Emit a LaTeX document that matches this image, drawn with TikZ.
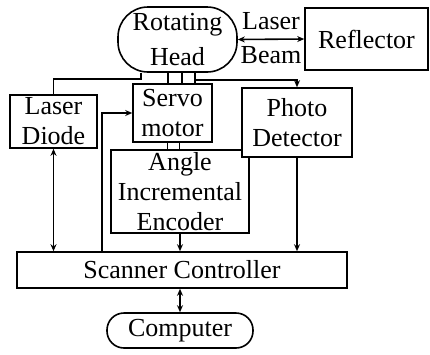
\documentclass[tikz,border=0pt]{standalone}
\usepackage{fontspec}
\setmainfont{Liberation Serif}
\usetikzlibrary{arrows.meta}
\begin{document}
\begin{tikzpicture}[x=1pt,y=-1pt,
  every node/.style={font=\fontsize{26}{30}\selectfont},
  box/.style={draw,line width=1.6pt,fill=white,inner sep=0pt,align=center},
  stadium/.style={box,rounded corners=30pt},
  conn/.style={line width=1.6pt},
  tip/.style={conn,-{Stealth[length=7pt,width=6pt]}},
  dtip/.style={conn,{Stealth[length=7pt,width=6pt]}-{Stealth[length=7pt,width=6pt]}},
  lbl/.style={inner sep=0pt}]
\useasboundingbox (0,0) rectangle (430,354);
\node[stadium,minimum width=119pt,minimum height=65pt,
  font=\fontsize{26}{35}\selectfont] (head) at (177.5,39.5) {Rotating\\Head};
\node[box,minimum width=123pt,minimum height=62pt] (refl) at (366.5,39) {Reflector};
\node[box,minimum width=87pt,minimum height=53pt] (diode) at (53.5,121.5) {Laser\\Diode};
\node[box,minimum width=79pt,minimum height=58pt] (servo) at (172.5,113) {Servo\\motor};
\node[box,minimum width=138pt,minimum height=83pt] (enc) at (180,191.5) {Angle\\Incremental\\Encoder};
\node[box,minimum width=110pt,minimum height=69pt] (photo) at (297,122.5) {Photo\\Detector};
\node[box,minimum width=330pt,minimum height=36pt] (ctrl) at (182,270) {Scanner Controller};
\node[stadium,rounded corners=17pt,minimum width=146pt,minimum height=35pt] (comp) at (180,330.5) {Computer};
\node[lbl] (laserlbl) at (271,21) {Laser};
\node[lbl] (beamlbl) at (271,55) {Beam};
% laser beam
\draw[dtip] (head.east) -- (refl.west);
% head to laser diode
\draw[conn] ([xshift=24pt]head.south west) -- ++(0,6) -| (diode.north);
% head to servo (three shafts)
\draw[conn] ([xshift=-9.5pt]head.south) -- ([xshift=-9.5pt]head.south |- servo.north);
\draw[conn] ([xshift=4.5pt]head.south) -- ([xshift=4.5pt]head.south |- servo.north);
\draw[conn] ([xshift=17.5pt]head.south) -- ([xshift=17.5pt]head.south |- servo.north);
% head to photo detector
\draw[tip] ([xshift=17.5pt]head.south) -- ++(0,7) -| (photo.north);
% servo to encoder link
\draw[conn] ([xshift=-5pt]servo.south) -- ([xshift=-5pt]servo.south |- enc.north);
\draw[conn] ([xshift=7pt]servo.south) -- ([xshift=7pt]servo.south |- enc.north);
% to scanner controller
\draw[dtip] (diode.south) -- (diode.south |- ctrl.north);
\draw[tip] ([xshift=-80pt]ctrl.north) |- (servo.west);
\draw[tip] (enc.south) -- (enc.south |- ctrl.north);
\draw[tip] (photo.south) -- (photo.south |- ctrl.north);
\draw[dtip] (comp.north |- ctrl.south) -- (comp.north);
\end{tikzpicture}
\end{document}
